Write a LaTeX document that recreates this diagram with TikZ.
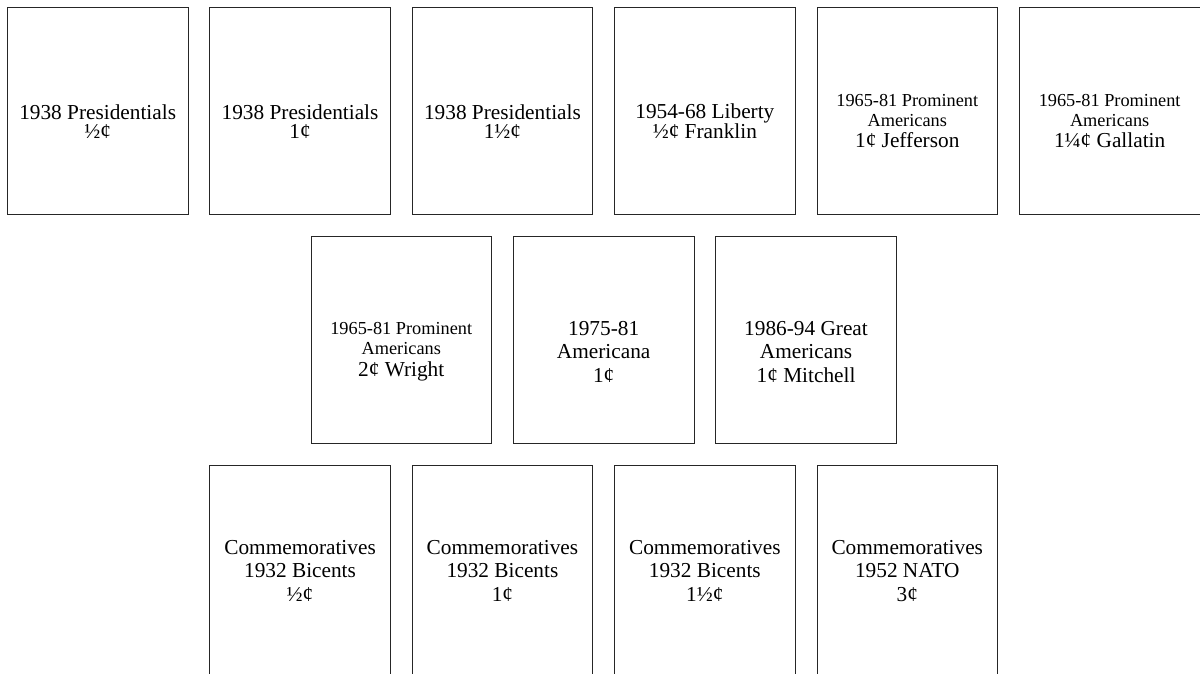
\documentclass[tikz,border=0pt]{standalone}
\usepackage{fontspec}
\setmainfont{Liberation Serif}
\newcommand{\smtxt}[1]{{\fontsize{18.3}{20}\selectfont #1}}
\tikzset{
  stamp/.style={draw=black!85, line width=0.8pt, minimum width=180.5pt, minimum height=207pt, inner sep=0pt, anchor=north west},
  lbl/.style={align=center, inner sep=0pt, font=\fontsize{21.3}{23.5}\selectfont}
}
\begin{document}
\begin{tikzpicture}[x=1pt,y=-1pt]
\useasboundingbox (0,0) rectangle (1200,673);
\clip (0,0) rectangle (1200,673);
% row 1
\node[stamp] (a1) at (7,7) {};
\node[stamp] (a2) at (209.4,7) {};
\node[stamp] (a3) at (411.8,7) {};
\node[stamp] (a4) at (614.2,7) {};
\node[stamp] (a5) at (816.6,7) {};
\node[stamp] (a6) at (1019,7) {};
% row 2
\node[stamp] (b1) at (310.6,236) {};
\node[stamp] (b2) at (513,236) {};
\node[stamp] (b3) at (715.4,236) {};
% row 3
\node[stamp, minimum height=215pt] (c1) at (209.4,465) {};
\node[stamp, minimum height=215pt] (c2) at (411.8,465) {};
\node[stamp, minimum height=215pt] (c3) at (614.2,465) {};
\node[stamp, minimum height=215pt] (c4) at (816.6,465) {};
% labels
\node[lbl] (ta1) at ([yshift=-10.5pt]a1.center) {1938 Presidentials\\[-4pt]½¢};
\node[lbl] (ta2) at ([yshift=-10.5pt]a2.center) {1938 Presidentials\\[-4pt]1¢};
\node[lbl] (ta3) at ([yshift=-10.5pt]a3.center) {1938 Presidentials\\[-4pt]1½¢};
\node[lbl] (ta4) at ([yshift=-10.5pt]a4.center) {1954-68 Liberty\\[-4pt]½¢ Franklin};
\node[lbl] (ta5) at ([yshift=-10pt]a5.center) {\smtxt{1965-81 Prominent}\\[-3.5pt]\smtxt{Americans}\\[-2pt]1¢ Jefferson};
\node[lbl] (ta6) at ([yshift=-10pt]a6.center) {\smtxt{1965-81 Prominent}\\[-3.5pt]\smtxt{Americans}\\[-2pt]1¼¢ Gallatin};
\node[lbl] (tb1) at ([yshift=-12pt]b1.center) {\smtxt{1965-81 Prominent}\\[-3.5pt]\smtxt{Americans}\\[-2pt]2¢ Wright};
\node[lbl] (tb2) at ([yshift=-12pt]b2.center) {1975-81\\Americana\\1¢};
\node[lbl] (tb3) at ([yshift=-12pt]b3.center) {1986-94 Great\\Americans\\1¢ Mitchell};
\node[lbl] (tc1) at ([yshift=2pt]c1.center) {Commemoratives\\1932 Bicents\\½¢};
\node[lbl] (tc2) at ([yshift=2pt]c2.center) {Commemoratives\\1932 Bicents\\1¢};
\node[lbl] (tc3) at ([yshift=2pt]c3.center) {Commemoratives\\1932 Bicents\\1½¢};
\node[lbl] (tc4) at ([yshift=2pt]c4.center) {Commemoratives\\1952 NATO\\3¢};
\end{tikzpicture}
\end{document}
